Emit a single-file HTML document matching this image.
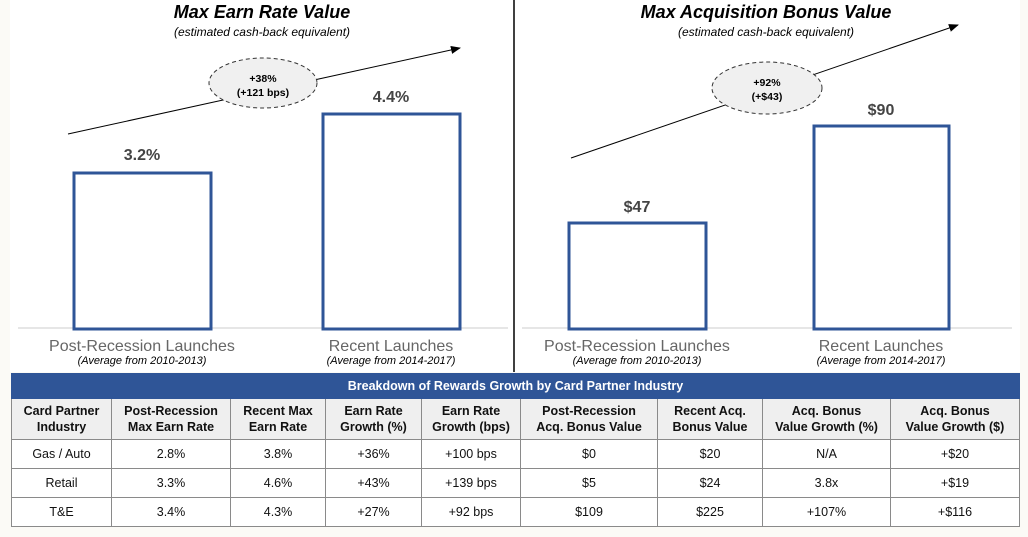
<!DOCTYPE html>
<html><head><style>
body{margin:0;width:1028px;height:537px;background:#fbfaf6;position:relative;overflow:hidden;font-family:"Liberation Sans",Arial,sans-serif;}
.w{position:absolute;left:10px;top:0;width:1010px;height:372px;background:#fff;}
.t{position:absolute;text-align:center;white-space:nowrap;}
table{position:absolute;left:11px;top:373px;border-collapse:collapse;table-layout:fixed;font-size:12.5px;color:#111;}
td{border:1.5px solid #8a8a8a;text-align:center;padding:0;background:#fff;}
tr.h td{background:#efefef;font-weight:bold;font-size:12.5px;line-height:16px;height:40px;}
tr.r td{height:28px;}
tr.b td{background:#2f5597;color:#fff;font-weight:bold;height:24px;border-color:#2f5597;font-size:12.5px;}
</style></head><body>
<div class="w"></div>
<svg width="1028" height="537" style="position:absolute;left:0;top:0">
<defs><marker id="a" markerWidth="10" markerHeight="8" refX="9" refY="4" orient="auto" markerUnits="userSpaceOnUse"><path d="M0,0L10,4L0,8z" fill="#000"/></marker></defs>
<line x1="514" y1="0" x2="514" y2="372" stroke="#000" stroke-width="1.5"/>
<line x1="18" y1="328" x2="508" y2="328" stroke="#ddd" stroke-width="1.5"/>
<line x1="522" y1="328" x2="1012" y2="328" stroke="#ddd" stroke-width="1.5"/>
<line x1="68" y1="134" x2="460" y2="48" stroke="#000" stroke-width="1" marker-end="url(#a)"/>
<line x1="571" y1="158" x2="958" y2="25" stroke="#000" stroke-width="1" marker-end="url(#a)"/>
<ellipse cx="263" cy="83" rx="54" ry="25" fill="#f0f0f0" stroke="#333" stroke-dasharray="4,3"/>
<ellipse cx="767" cy="88" rx="55" ry="26" fill="#f0f0f0" stroke="#333" stroke-dasharray="4,3"/>
<rect x="74" y="173" width="137" height="156" fill="#fff" stroke="#2f5597" stroke-width="3"/>
<rect x="323" y="114" width="137" height="215" fill="#fff" stroke="#2f5597" stroke-width="3"/>
<rect x="569" y="223" width="137" height="106" fill="#fff" stroke="#2f5597" stroke-width="3"/>
<rect x="814" y="126" width="135" height="203" fill="#fff" stroke="#2f5597" stroke-width="3"/>
</svg>
<div class="t" style="left:10px;width:504px;top:2px;font-size:18px;font-weight:bold;font-style:italic;">Max Earn Rate Value</div>
<div class="t" style="left:10px;width:504px;top:25px;font-size:12px;font-style:italic;">(estimated cash-back equivalent)</div>
<div class="t" style="left:514px;width:504px;top:2px;font-size:18px;font-weight:bold;font-style:italic;">Max Acquisition Bonus Value</div>
<div class="t" style="left:514px;width:504px;top:25px;font-size:12px;font-style:italic;">(estimated cash-back equivalent)</div>
<div class="t" style="left:213px;width:100px;top:72px;font-size:10.5px;font-weight:bold;line-height:14px;">+38%<br>(+121 bps)</div>
<div class="t" style="left:717px;width:100px;top:76px;font-size:10.5px;font-weight:bold;line-height:14px;">+92%<br>(+$43)</div>
<div class="t" style="left:92px;width:100px;top:147px;font-size:16px;font-weight:bold;color:#444;">3.2%</div>
<div class="t" style="left:341px;width:100px;top:89px;font-size:16px;font-weight:bold;color:#444;">4.4%</div>
<div class="t" style="left:587px;width:100px;top:199px;font-size:16px;font-weight:bold;color:#444;">$47</div>
<div class="t" style="left:831px;width:100px;top:102px;font-size:16px;font-weight:bold;color:#444;">$90</div>
<div class="t" style="left:42px;width:200px;top:338px;font-size:16px;color:#666;">Post-Recession Launches</div>
<div class="t" style="left:42px;width:200px;top:355px;font-size:11px;font-style:italic;">(Average from 2010-2013)</div>
<div class="t" style="left:291px;width:200px;top:338px;font-size:16px;color:#666;">Recent Launches</div>
<div class="t" style="left:291px;width:200px;top:355px;font-size:11px;font-style:italic;">(Average from 2014-2017)</div>
<div class="t" style="left:537px;width:200px;top:338px;font-size:16px;color:#666;">Post-Recession Launches</div>
<div class="t" style="left:537px;width:200px;top:355px;font-size:11px;font-style:italic;">(Average from 2010-2013)</div>
<div class="t" style="left:781px;width:200px;top:338px;font-size:16px;color:#666;">Recent Launches</div>
<div class="t" style="left:781px;width:200px;top:355px;font-size:11px;font-style:italic;">(Average from 2014-2017)</div>
<table>
<colgroup><col style="width:100px"><col style="width:119px"><col style="width:95px"><col style="width:96px"><col style="width:99px"><col style="width:137px"><col style="width:105px"><col style="width:128px"><col style="width:129px"></colgroup>
<tr class="b"><td colspan="9">Breakdown of Rewards Growth by Card Partner Industry</td></tr>
<tr class="h"><td>Card Partner<br>Industry</td><td>Post-Recession<br>Max Earn Rate</td><td>Recent Max<br>Earn Rate</td><td>Earn Rate<br>Growth (%)</td><td>Earn Rate<br>Growth (bps)</td><td>Post-Recession<br>Acq. Bonus Value</td><td>Recent Acq.<br>Bonus Value</td><td>Acq. Bonus<br>Value Growth (%)</td><td>Acq. Bonus<br>Value Growth ($)</td></tr>
<tr class="r"><td>Gas / Auto</td><td>2.8%</td><td>3.8%</td><td>+36%</td><td>+100 bps</td><td>$0</td><td>$20</td><td>N/A</td><td>+$20</td></tr>
<tr class="r"><td>Retail</td><td>3.3%</td><td>4.6%</td><td>+43%</td><td>+139 bps</td><td>$5</td><td>$24</td><td>3.8x</td><td>+$19</td></tr>
<tr class="r"><td>T&amp;E</td><td>3.4%</td><td>4.3%</td><td>+27%</td><td>+92 bps</td><td>$109</td><td>$225</td><td>+107%</td><td>+$116</td></tr>
</table>
</body></html>
